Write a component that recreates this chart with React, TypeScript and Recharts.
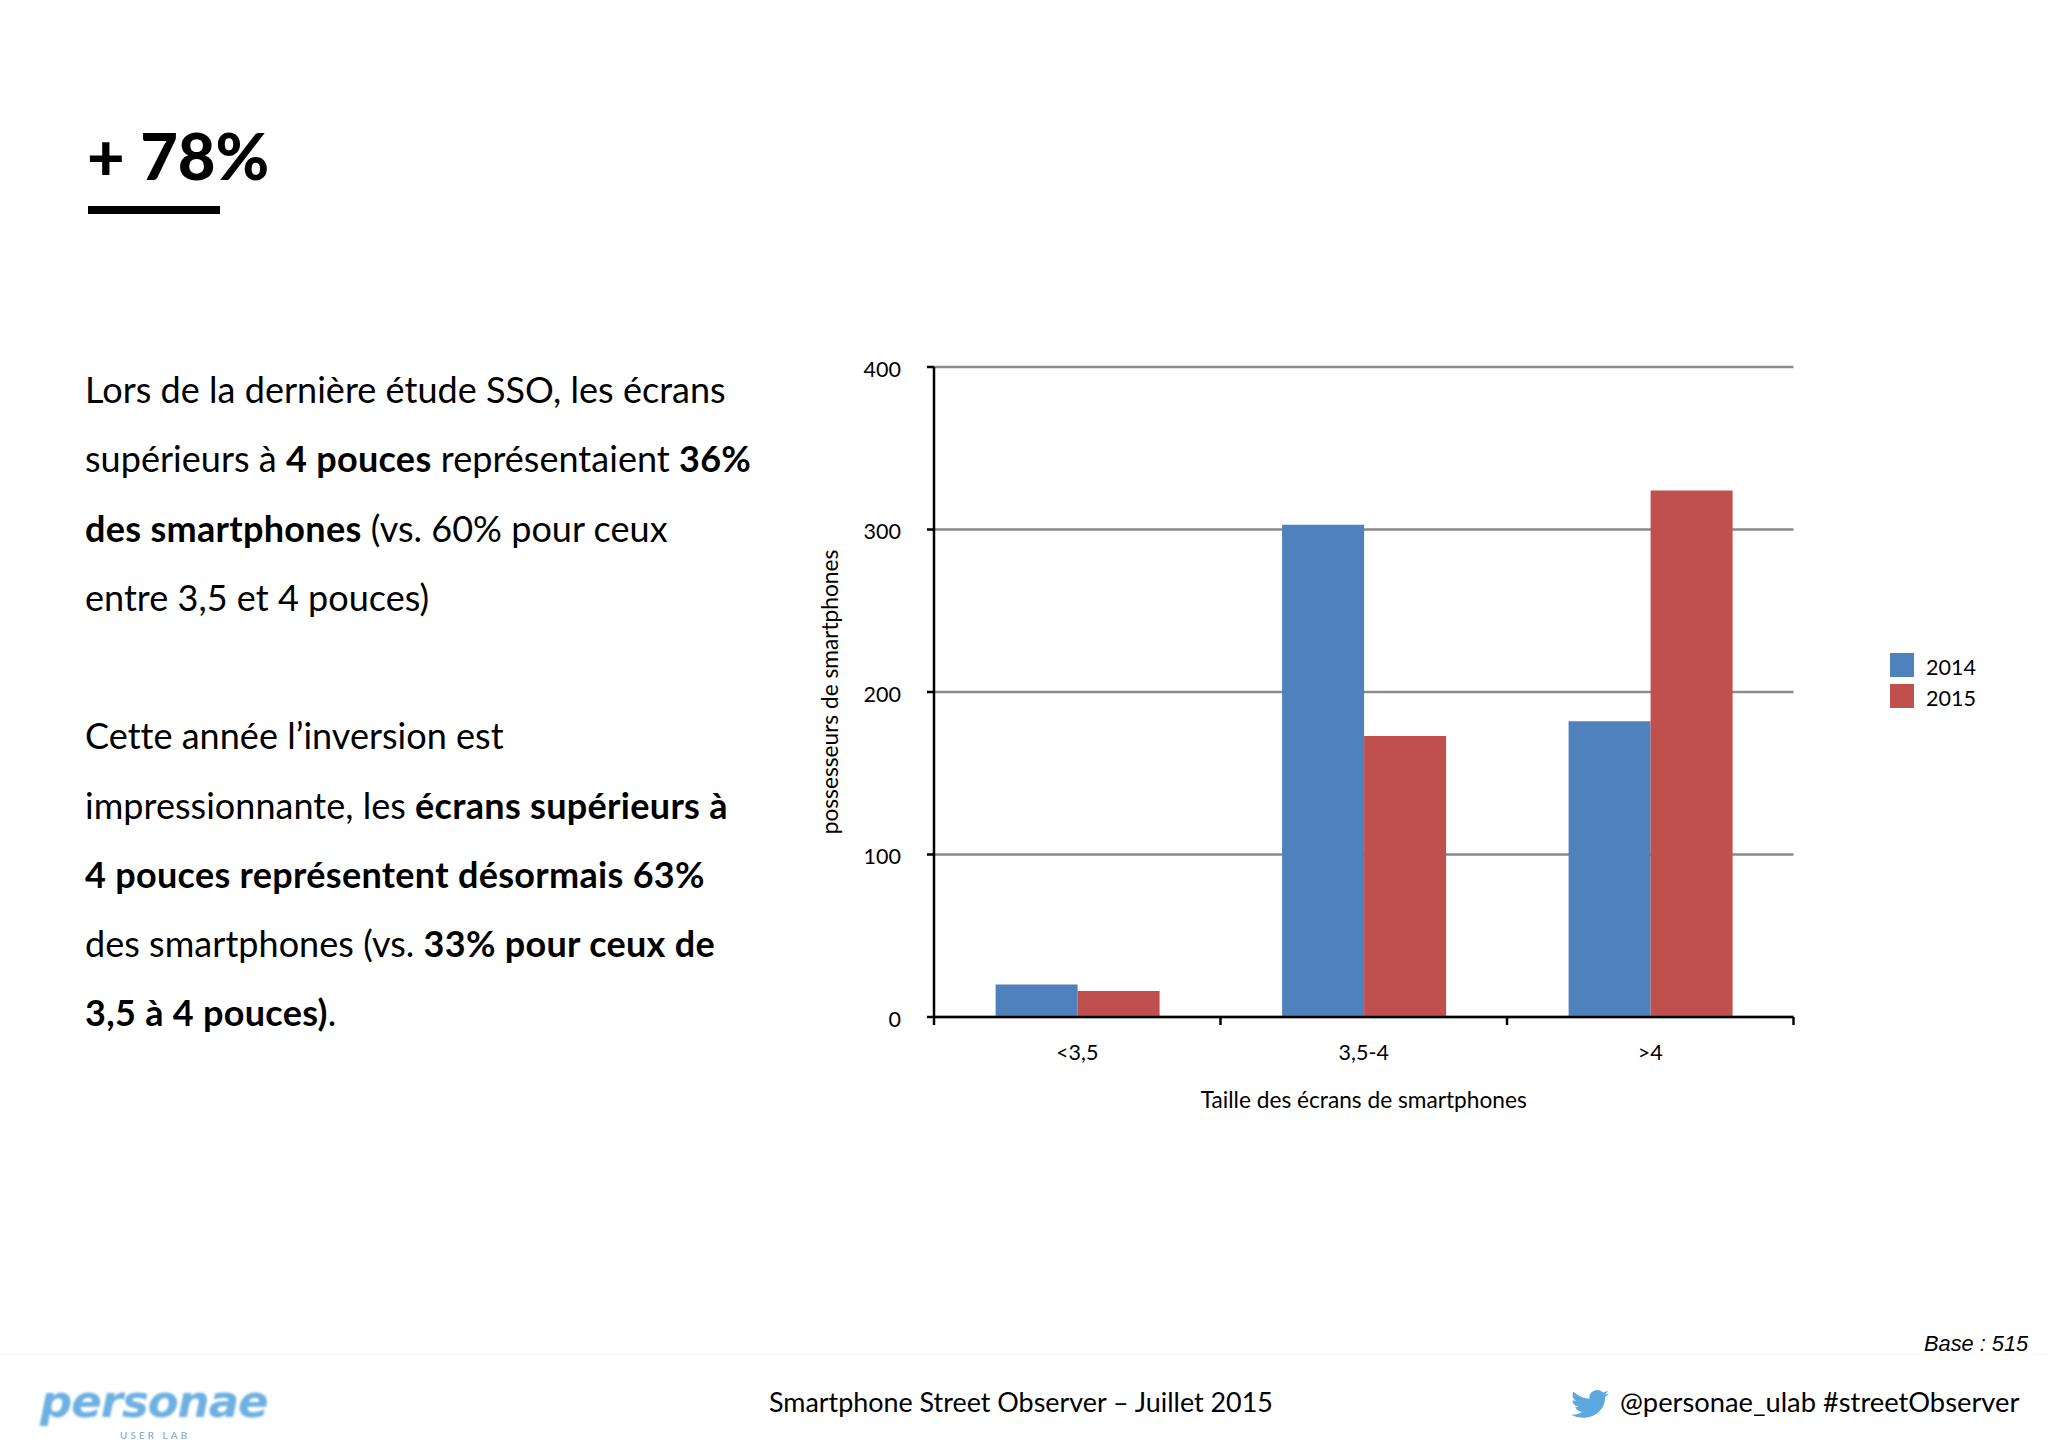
import React from "react";
import { BarChart, Bar, XAxis, YAxis, CartesianGrid, Legend, Label } from "recharts";

const categories = ["<3,5", "3,5-4", ">4"];
const values2014 = [20, 303, 182];
const values2015 = [16, 173, 324];
const yTicks = [0, 100, 200, 300, 400];
const data = categories.map((c, i) => ({ name: c, y2014: values2014[i], y2015: values2015[i] }));

const FONT = "Lato, Carlito, sans-serif";
const plotLeft = 934;
const plotRight = 1793.5;
const plotTop = 367;
const plotBottom = 1017;
const halfBand = (plotRight - plotLeft) / categories.length / 2;

type Seg = [string, boolean];
const paragraph: { y: number; segs: Seg[] }[] = [
  { y: 389, segs: [["Lors de la dernière étude SSO, les écrans", false]] },
  { y: 458, segs: [["supérieurs à ", false], ["4 pouces", true], [" représentaient ", false], ["36%", true]] },
  { y: 528, segs: [["des smartphones", true], [" (vs. 60% pour ceux", false]] },
  { y: 597, segs: [["entre 3,5 et 4 pouces)", false]] },
  { y: 735, segs: [["Cette année l’inversion est", false]] },
  { y: 805, segs: [["impressionnante, les ", false], ["écrans supérieurs à", true]] },
  { y: 874, segs: [["4 pouces représentent désormais 63%", true]] },
  { y: 943, segs: [["des smartphones (vs. ", false], ["33% pour ceux de", true]] },
  { y: 1012, segs: [["3,5 à 4 pouces)", true], [".", false]] },
];

function abs(left: number, centerY: number, extra: React.CSSProperties = {}): React.CSSProperties {
  return { position: "absolute", left, top: centerY, transform: "translateY(-50%)", whiteSpace: "pre", fontFamily: FONT, color: "#000", lineHeight: 1, ...extra };
}

function XTick(props: any) {
  const { x, payload, index } = props;
  return (
    <g>
      <line x1={x - halfBand} x2={x - halfBand} y1={plotBottom} y2={plotBottom + 8} stroke="#000" strokeWidth={2.5} />
      {index === categories.length - 1 && (
        <line x1={x + halfBand} x2={x + halfBand} y1={plotBottom} y2={plotBottom + 8} stroke="#000" strokeWidth={2.5} />
      )}
      <text x={x} y={plotBottom + 43} textAnchor="middle" fontSize={21.5} fontFamily={FONT} fill="#000">
        {payload.value}
      </text>
    </g>
  );
}

function LegendBox(props: any) {
  return (
    <div style={{ fontFamily: FONT, fontSize: 21.5, color: "#000" }}>
      {props.payload.map((p: any) => (
        <div key={p.value} style={{ display: "flex", alignItems: "center", height: 31.5 }}>
          <span style={{ display: "inline-block", width: 24, height: 24, background: p.color, marginRight: 12 }} />
          <span style={{ position: "relative", top: 2 }}>{p.value}</span>
        </div>
      ))}
    </div>
  );
}

export default function App() {
  return (
    <div style={{ position: "absolute", left: 0, top: 0, width: 2048, height: 1449, background: "#fff", overflow: "hidden" }}>
      <div style={abs(87, 155, { fontSize: 65, fontWeight: 900 })}>+ 78%</div>
      <div style={{ position: "absolute", left: 87.5, top: 205.5, width: 132, height: 8.5, background: "#000" }} />
      {paragraph.map((line) => (
        <div key={line.y} style={abs(85, line.y, { fontSize: 36 })}>
          {line.segs.map(([t, b], i) => (
            <span key={i} style={{ fontWeight: b ? 700 : 400, letterSpacing: b ? 0.3 : 0.03 }}>{t}</span>
          ))}
        </div>
      ))}
      <div style={{ position: "absolute", left: 0, top: 0 }}>
        <BarChart
          width={2048}
          height={1449}
          data={data}
          barCategoryGap="21.5%"
          barGap={0}
          margin={{ left: 0, right: 2048 - plotRight, top: plotTop, bottom: 0 }}
        >
          <CartesianGrid vertical={false} stroke="#8a8a8a" strokeWidth={2.5} syncWithTicks />
          <XAxis
            dataKey="name"
            height={1449 - plotBottom}
            axisLine={{ stroke: "#000", strokeWidth: 2.5 }}
            tickLine={false}
            tick={<XTick />}
            interval={0}
          >
            <Label value="Taille des écrans de smartphones" position="insideTop" offset={75} fontSize={22.7} fontFamily={FONT} fill="#000" />
          </XAxis>
          <YAxis
            width={plotLeft}
            domain={[0, 400]}
            ticks={yTicks}
            axisLine={{ stroke: "#000", strokeWidth: 2.5 }}
            tickLine={{ stroke: "#000", strokeWidth: 2.5 }}
            tickSize={7}
            tick={{ fontSize: 21.5, fontFamily: FONT, fill: "#000", dy: 2 }}
            tickMargin={26}
          >
            <Label
              value="possesseurs de smartphones"
              angle={-90}
              position="insideLeft"
              offset={830}
              textAnchor="middle"
              fontSize={22.7}
              fontFamily={FONT}
              fill="#000"
            />
          </YAxis>
          <Legend
            layout="vertical"
            content={<LegendBox />}
            wrapperStyle={{ position: "absolute", left: 1890, top: 649, width: 120, height: 0 }}
          />
          <Bar dataKey="y2014" name="2014" fill="#4F81BD" isAnimationActive={false} />
          <Bar dataKey="y2015" name="2015" fill="#C0504D" isAnimationActive={false} />
        </BarChart>
      </div>
      <div style={{ position: "absolute", left: 0, top: 1354, width: 2048, height: 1, background: "#f8f8f8" }} />
      <div style={abs(1924, 1344, { fontSize: 21.8, fontStyle: "italic", fontFamily: "'Liberation Sans', Arial, sans-serif" })}>Base : 515</div>
      <div style={abs(769, 1402, { fontSize: 26.9 })}>Smartphone Street Observer – Juillet 2015</div>
      <div style={abs(1620, 1402, { fontSize: 27.3 })}>@personae_ulab #streetObserver</div>
      <div style={abs(40, 1402, { fontSize: 45, fontStyle: "italic", fontWeight: 700, fontFamily: "'DejaVu Sans', sans-serif", color: "#6DB0E2", filter: "blur(1.2px)", letterSpacing: -1, lineHeight: 0.7 })}>personae</div>
      <div style={abs(120, 1435, { fontSize: 10, fontWeight: 700, color: "#8fb6d8", letterSpacing: 3, filter: "blur(0.6px)" })}>USER LAB</div>
      <svg style={{ position: "absolute", left: 1571, top: 1387, filter: "blur(0.7px)" }} width={38} height={34} viewBox="0 0 24 24" preserveAspectRatio="none">
        <path fill="#5BA9E0" d="M23.95 4.57a10 10 0 0 1-2.82.77 4.96 4.96 0 0 0 2.16-2.72c-.95.55-2 .95-3.12 1.18a4.92 4.92 0 0 0-8.38 4.48C7.69 8.1 4.07 6.13 1.64 3.16a4.82 4.82 0 0 0-.67 2.48c0 1.71.87 3.21 2.19 4.1a4.9 4.9 0 0 1-2.23-.62v.06a4.92 4.92 0 0 0 3.95 4.83 5 5 0 0 1-2.21.08 4.93 4.93 0 0 0 4.6 3.42A9.87 9.87 0 0 1 0 19.54a13.94 13.94 0 0 0 7.55 2.21c9.05 0 14-7.5 14-13.98 0-.21 0-.42-.02-.63a9.94 9.94 0 0 0 2.42-2.57z" />
      </svg>
    </div>
  );
}
